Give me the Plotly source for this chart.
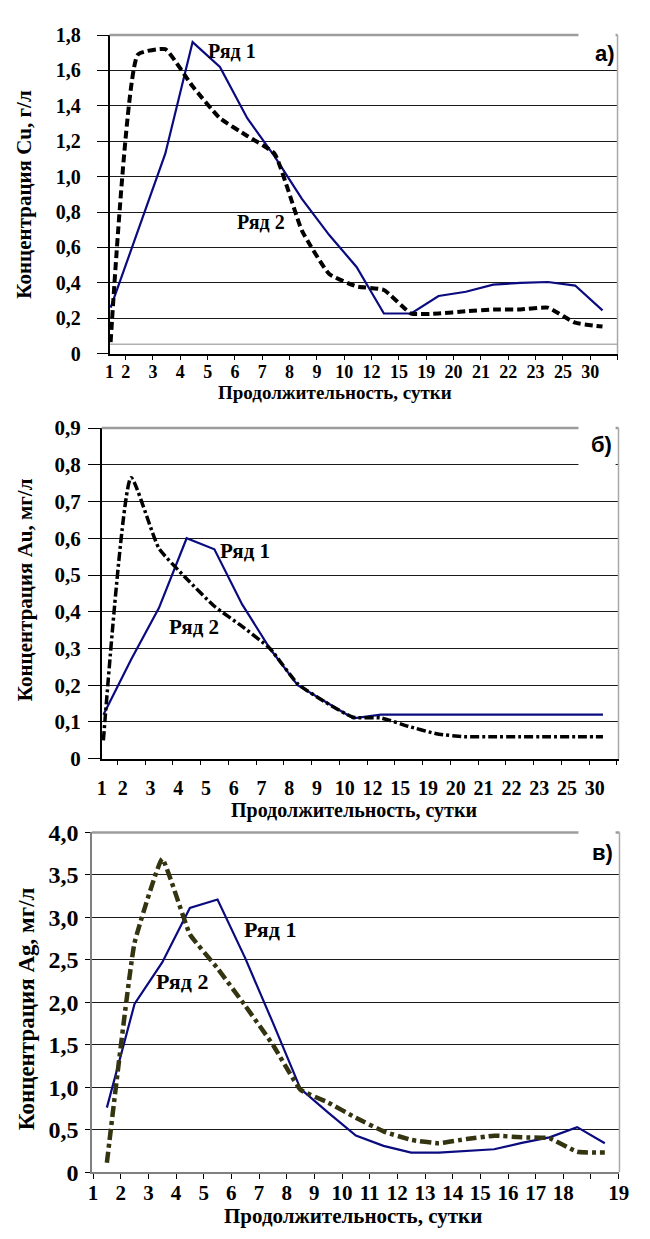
import plotly.graph_objects as go

# ---------------- data ----------------
days_ab = ["1", "2", "3", "4", "5", "6", "7", "8", "9", "10", "12", "15",
           "19", "20", "21", "22", "23", "25", "30"]
days_c = [str(d) for d in range(1, 20)]

cu_r1 = [0.26, 0.70, 1.13, 1.76, 1.62, 1.33, 1.115, 0.875, 0.67, 0.49, 0.227,
         0.227, 0.326, 0.35, 0.39, 0.40, 0.405, 0.385, 0.245]
cu_r2 = [0.065, 1.69, 1.72, 1.51, 1.33, 1.23, 1.13, 0.695, 0.45, 0.38, 0.36,
         0.227, 0.227, 0.24, 0.25, 0.25, 0.26, 0.175, 0.153]

au_r1 = [0.12, 0.27, 0.41, 0.60, 0.57, 0.42, 0.30, 0.20, 0.155, 0.11, 0.12,
         0.12, 0.12, 0.12, 0.12, 0.12, 0.12, 0.12, 0.12]
au_r2 = [0.05, 0.765, 0.573, 0.49, 0.415, 0.36, 0.30, 0.204, 0.154, 0.113,
         0.111, 0.088, 0.068, 0.06, 0.06, 0.06, 0.06, 0.06, 0.06]

ag_r1 = [0.76, 1.98, 2.47, 3.11, 3.21, 2.52, 1.76, 0.98, 0.70, 0.43, 0.31,
         0.23, 0.23, 0.25, 0.27, 0.345, 0.41, 0.53, 0.34]
ag_r2 = [0.11, 2.70, 3.69, 2.80, 2.40, 1.96, 1.50, 0.97, 0.82, 0.64, 0.48,
         0.38, 0.34, 0.39, 0.43, 0.41, 0.40, 0.24, 0.23]

yt_a = [0, 0.2, 0.4, 0.6, 0.8, 1.0, 1.2, 1.4, 1.6, 1.8]
yl_a = ["0", "0,2", "0,4", "0,6", "0,8", "1,0", "1,2", "1,4", "1,6", "1,8"]
yt_b = [0, 0.1, 0.2, 0.3, 0.4, 0.5, 0.6, 0.7, 0.8, 0.9]
yl_b = ["0", "0,1", "0,2", "0,3", "0,4", "0,5", "0,6", "0,7", "0,8", "0,9"]
yt_c = [0, 0.5, 1.0, 1.5, 2.0, 2.5, 3.0, 3.5, 4.0]
yl_c = ["0", "0,5", "1,0", "1,5", "2,0", "2,5", "3,0", "3,5", "4,0"]

W, H = 650, 1239
SERIF = "Liberation Serif, Times New Roman, serif"
NAVY = "#0b0b80"


def px(x):
    return x / W


def py(y):
    return 1 - y / H


def sfont(size):
    return dict(family=SERIF, size=size, color="black", weight="bold")


fig = go.Figure()

idx_ab = list(range(len(days_ab)))
idx_c = list(range(len(days_c)))

# panel a
fig.add_trace(go.Scatter(x=idx_ab, y=cu_r1, mode="lines", xaxis="x", yaxis="y",
                         line=dict(color=NAVY, width=2.2), showlegend=False))
fig.add_trace(go.Scatter(x=idx_ab, y=cu_r2, mode="lines", xaxis="x", yaxis="y",
                         line=dict(color="black", width=4, dash="8px,4px",
                                   shape="spline", smoothing=0.4),
                         showlegend=False))
# panel b
fig.add_trace(go.Scatter(x=idx_ab, y=au_r1, mode="lines", xaxis="x2", yaxis="y2",
                         line=dict(color=NAVY, width=2.2), showlegend=False))
fig.add_trace(go.Scatter(x=idx_ab, y=au_r2, mode="lines", xaxis="x2", yaxis="y2",
                         line=dict(color="black", width=3.5,
                                   dash="9px,3px,3px,3px",
                                   shape="spline", smoothing=0.5),
                         showlegend=False))
# panel c
fig.add_trace(go.Scatter(x=idx_c, y=ag_r1, mode="lines", xaxis="x3", yaxis="y3",
                         line=dict(color=NAVY, width=2.2), showlegend=False))
fig.add_trace(go.Scatter(x=idx_c, y=ag_r2, mode="lines", xaxis="x3", yaxis="y3",
                         line=dict(color="#343410", width=4.5,
                                   dash="11px,4px,4px,4px",
                                   shape="spline", smoothing=0.3),
                         showlegend=False))


def xaxis(dom, rng, labels, label_pos, minor_pos, standoff, anchor, fsize,
          lcolor):
    return dict(domain=dom, range=rng, anchor=anchor,
                tickmode="array", tickvals=label_pos, ticktext=labels,
                ticks="", ticklen=0, showgrid=False, zeroline=False,
                showline=True, linecolor=lcolor, linewidth=1.5,
                tickfont=sfont(fsize), ticklabelstandoff=standoff,
                minor=dict(tickmode="array", tickvals=minor_pos,
                           ticks="outside", ticklen=5, tickwidth=1,
                           tickcolor="black", showgrid=False))


def yaxis(dom, rng, tv, tl, ticklen, anchor, fsize, lcolor, standoff):
    return dict(domain=dom, range=rng, anchor=anchor,
                tickmode="array", tickvals=tv, ticktext=tl,
                ticks="outside", ticklen=ticklen, tickwidth=1,
                tickcolor="black", showgrid=True, gridcolor="#1a1a1a",
                gridwidth=1, zeroline=False, showline=True,
                linecolor=lcolor, linewidth=1.5, tickfont=sfont(fsize),
                ticklabelstandoff=standoff)


n = len(days_ab)
pos_a = [max(k - 0.45, -0.04) for k in range(n)]
pos_b = [max(k - 0.3, -0.06) for k in range(n)]
pos_c = [k - 0.5 for k in range(len(days_c) - 1)] + [18.5]
minor_a = [j + 0.55 for j in range(n)]
minor_b = [j + 0.5 for j in range(n)]
minor_c = [j - 0.5 for j in range(len(days_c) + 1)]

fig.update_layout(
    width=W, height=H, margin=dict(l=0, r=0, t=0, b=0),
    paper_bgcolor="white", plot_bgcolor="white",
    xaxis=xaxis([px(107), px(627)], [-0.04, 18.55], days_ab, pos_a, minor_a,
                1, "y", 18, "black"),
    yaxis=yaxis([py(348), py(22.5)], [0, 1.8], yt_a, yl_a, 11, "x", 20,
                "black", 12),
    xaxis2=xaxis([px(99), px(628)], [-0.06, 18.56], days_ab, pos_b, minor_b,
                 11, "y2", 20, "black"),
    yaxis2=yaxis([py(761.7), py(424)], [0, 0.9], yt_b, yl_b, 12, "x2", 21,
                 "black", 3),
    xaxis3=xaxis([px(89), px(629)], [-0.54, 18.53], days_c, pos_c, minor_c,
                 1, "y3", 21, "#808080"),
    yaxis3=yaxis([py(1184), py(837)], [0, 4.0], yt_c, yl_c, 5, "x3", 24,
                 "#808080", 2),
)

shapes = []
for xs, ys in (("x", "y"), ("x2", "y2"), ("x3", "y3")):
    # grey frame: top and right
    shapes.append(dict(type="line", xref=xs + " domain", yref=ys + " domain",
                       x0=0, x1=1, y0=1, y1=1, layer="above",
                       line=dict(color="#9c9c9c", width=2.5)))
    shapes.append(dict(type="line", xref=xs + " domain", yref=ys + " domain",
                       x0=1, x1=1, y0=0, y1=1, layer="above",
                       line=dict(color="#a8a8a8", width=1.5)))
# bottom grey frame line of panel a (slightly above axis)
shapes.append(dict(type="line", xref="x domain", yref="y domain",
                   x0=0, x1=1, y0=0.03, y1=0.03, layer="below",
                   line=dict(color="#b0b0b0", width=1.5)))
# white label boxes
for top, bot in ((8, 50), (416, 466), (830, 872)):
    shapes.append(dict(type="rect", xref="paper", yref="paper",
                       x0=px(587), x1=px(625), y0=py(bot), y1=py(top),
                       fillcolor="white", line=dict(width=0), layer="above"))
fig.update_layout(shapes=shapes)

ann = []
lab_font = dict(family="Liberation Sans, Arial, sans-serif", size=22,
                color="black", weight="bold")
for txt, x, y in (("а)", 614, 41), ("б)", 611, 441), ("в)", 612, 857)):
    ann.append(dict(text=txt, x=px(x), y=py(y), xref="paper", yref="paper",
                    showarrow=False, font=lab_font, xanchor="center",
                    yanchor="middle"))

for txt, x, y, xr, yr, fs in (("Ряд 1", 4.44, 1.707, "x", "y", 20),
                              ("Ряд 2", 5.5, 0.746, "x", "y", 20),
                              ("Ряд 1", 5.1, 0.565, "x2", "y2", 21),
                              ("Ряд 2", 3.28, 0.359, "x2", "y2", 21),
                              ("Ряд 1", 5.89, 2.86, "x3", "y3", 22),
                              ("Ряд 2", 2.72, 2.24, "x3", "y3", 22)):
    ann.append(dict(text=txt, x=x, y=y, xref=xr, yref=yr, showarrow=False,
                    font=sfont(fs), xanchor="center", yanchor="middle"))

for x, y, fs in ((338, 388, 19), (357, 815, 20), (356, 1229, 21)):
    ann.append(dict(text="Продолжительность, сутки", x=px(x), y=py(y),
                    xref="paper", yref="paper", showarrow=False,
                    font=sfont(fs), xanchor="center", yanchor="middle"))
for txt, x, y, fs in (("Концентрация Cu, г/л", 20, 185, 21),
                      ("Концентрация Au, мг/л", 20, 589, 21),
                      ("Концентрация Ag, мг/л", 22, 1017, 23)):
    ann.append(dict(text=txt, x=px(x), y=py(y), xref="paper", yref="paper",
                    showarrow=False, font=sfont(fs), textangle=-90,
                    xanchor="center", yanchor="middle"))
fig.update_layout(annotations=ann)

fig.write_html("out.html", config={"displayModeBar": False},
               post_script="document.body.style.margin='0';")
